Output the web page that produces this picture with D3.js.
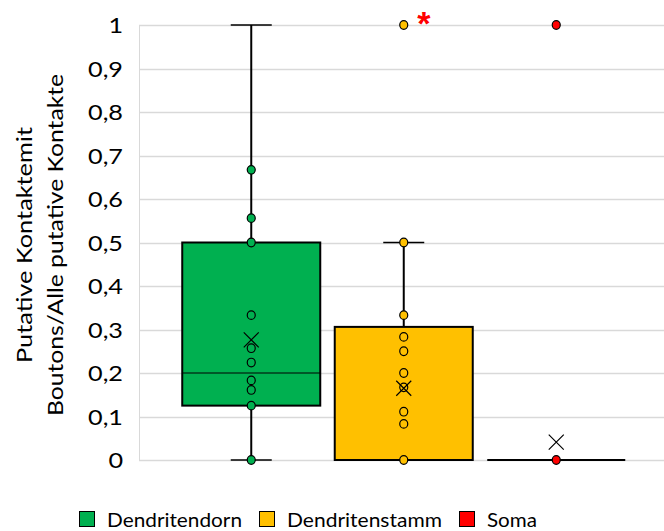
<!DOCTYPE html>
<html>
<head>
<meta charset="utf-8">
<script src="https://cdn.jsdelivr.net/npm/d3@7"></script>
<style>
  html, body { margin: 0; padding: 0; background: #fff; }
  svg { display: block; }
  text { font-family: Lato, "Liberation Sans", sans-serif; fill: #000; }
</style>
</head>
<body>
<div id="chart"></div>
<script>
// Categories and colours of the three contact locations
const categories = ["Dendritendorn", "Dendritenstamm", "Soma"];
const colors = ["#00B050", "#FFC000", "#FF0000"];

// Box-plot statistics per category
const whiskerLow  = [0, 0, 0];
const q1          = [0.125, 0, 0];
const median      = [0.2, 0, 0];
const q3          = [0.5, 0.306, 0];
const whiskerHigh = [1, 0.5, 0];
const means       = [0.276, 0.165, 0.041];

// Individual observations per category
const pointsDorn   = [0.667, 0.556, 0.5, 0.333, 0.257, 0.224, 0.183, 0.161, 0.125, 0];
const pointsStamm  = [1, 0.5, 0.333, 0.283, 0.25, 0.2, 0.167, 0.111, 0.083, 0];
const pointsSoma   = [1, 0];
const points = [pointsDorn, pointsStamm, pointsSoma];

// Significance marker placed on the outlier of the second group
const markedGroup = 1;
const markedValue = 1;

// Axis ticks
const yTicks = [0, 0.1, 0.2, 0.3, 0.4, 0.5, 0.6, 0.7, 0.8, 0.9, 1];
const yTitle = ["Putative Kontaktemit", "Boutons/Alle putative Kontakte"];

const W = 664, H = 531;
const svg = d3.select("#chart").append("svg").attr("width", W).attr("height", H);

const y = d3.scaleLinear().domain([0, 1]).range([460, 25]);
const x = d3.scaleBand().domain(categories).range([175, 632.5]).paddingInner(0.095).paddingOuter(0.0475);
const cx = c => x(c) + x.bandwidth() / 2;

const plotLeft = 139, plotRight = 664;

// Stretch/squeeze a text element horizontally to a given rendered width
function fitWidth(node, target) {
  const w = node.getComputedTextLength();
  if (w > 0) {
    d3.select(node).attr("textLength", target).attr("lengthAdjust", "spacingAndGlyphs");
  }
}

// Horizontal gridlines
svg.append("g").selectAll("line").data(yTicks).join("line")
  .attr("x1", plotLeft).attr("x2", plotRight)
  .attr("y1", d => Math.round(y(d)) + 0.5).attr("y2", d => Math.round(y(d)) + 0.5)
  .attr("stroke", "#D9D9D9").attr("stroke-width", 1.5);

// Vertical axis line
svg.append("line").attr("x1", plotLeft + 0.5).attr("x2", plotLeft + 0.5)
  .attr("y1", y(1)).attr("y2", y(0)).attr("stroke", "#D9D9D9").attr("stroke-width", 1);

// Y axis tick labels
const fmt = d => d3.format(".1~f")(d).replace(".", ",");
const yAxis = d3.axisLeft(y).tickValues(yTicks).tickFormat(fmt).tickSize(0).tickPadding(0);
const gy = svg.append("g").attr("transform", "translate(123,0)").call(yAxis);
gy.select(".domain").remove();
gy.selectAll("text").style("font-size", "21px").style("font-family", "Lato, 'Liberation Sans', sans-serif")
  .attr("dy", "0.36em").attr("x", 0);
// widen the labels uniformly so that "0,9" is about 35px wide
{
  const ref = gy.selectAll("text").filter(d => d === 0.9).node();
  const sx = 35 / ref.getComputedTextLength();
  gy.selectAll(".tick text").attr("transform", `scale(${sx},1)`);
}

// Y axis title (two lines, rotated)
const ty = svg.append("text").attr("transform", "translate(0,245) rotate(-90)")
  .attr("text-anchor", "middle").style("font-size", "21px");
const titleWidths = [236, 342];
ty.selectAll("tspan").data(yTitle).join("tspan")
  .attr("x", 0).attr("y", (d, i) => 32 + i * 31).text(d => d)
  .each(function (d, i) { fitWidth(this, titleWidths[i]); });

// Boxes, whiskers, medians
categories.forEach((c, i) => {
  const g = svg.append("g");
  const mx = cx(c);
  const capW = 41;
  if (whiskerHigh[i] > q3[i]) {
    g.append("line").attr("x1", mx).attr("x2", mx).attr("y1", y(q3[i])).attr("y2", y(whiskerHigh[i]))
      .attr("stroke", "#000").attr("stroke-width", 2);
    g.append("line").attr("x1", mx - capW / 2).attr("x2", mx + capW / 2)
      .attr("y1", y(whiskerHigh[i])).attr("y2", y(whiskerHigh[i])).attr("stroke", "#000").attr("stroke-width", 1.5);
  }
  if (whiskerLow[i] < q1[i]) {
    g.append("line").attr("x1", mx).attr("x2", mx).attr("y1", y(q1[i])).attr("y2", y(whiskerLow[i]))
      .attr("stroke", "#000").attr("stroke-width", 2);
    g.append("line").attr("x1", mx - capW / 2).attr("x2", mx + capW / 2)
      .attr("y1", y(whiskerLow[i])).attr("y2", y(whiskerLow[i])).attr("stroke", "#000").attr("stroke-width", 1.5);
  }
  const h = y(q1[i]) - y(q3[i]);
  if (h > 0) {
    g.append("rect").attr("x", x(c)).attr("y", y(q3[i])).attr("width", x.bandwidth()).attr("height", h)
      .attr("fill", colors[i]).attr("stroke", "#000").attr("stroke-width", 2);
    g.append("line").attr("x1", x(c)).attr("x2", x(c) + x.bandwidth())
      .attr("y1", y(median[i])).attr("y2", y(median[i])).attr("stroke", "#000").attr("stroke-width", 1.2);
  } else {
    g.append("line").attr("x1", x(c)).attr("x2", x(c) + x.bandwidth())
      .attr("y1", y(q1[i])).attr("y2", y(q1[i])).attr("stroke", "#000").attr("stroke-width", 2);
  }
});

// Data points
categories.forEach((c, i) => {
  svg.append("g").selectAll("ellipse").data(points[i]).join("ellipse")
    .attr("cx", cx(c)).attr("cy", d => y(d)).attr("rx", 4).attr("ry", 4.3)
    .attr("fill", colors[i]).attr("stroke", "#000").attr("stroke-width", 1.2);
});

// Mean markers (X)
categories.forEach((c, i) => {
  const mx = cx(c), my = y(means[i]), s = 7.5;
  svg.append("path").attr("d", `M${mx - s},${my - s}L${mx + s},${my + s}M${mx - s},${my + s}L${mx + s},${my - s}`)
    .attr("stroke", "#000").attr("stroke-width", 1.2).attr("fill", "none");
});

// Significance asterisk
svg.append("text").attr("x", cx(categories[markedGroup]) + 20).attr("y", y(markedValue) + 10)
  .attr("text-anchor", "middle").style("font-size", "34px").style("font-weight", "bold")
  .style("fill", "#FF0000").style("font-family", "'Liberation Sans', sans-serif").text("*");

// Legend
const legendX = [79, 259, 459];
const legendWidths = [135, 155, 50];
const lg = svg.append("g");
categories.forEach((c, i) => {
  lg.append("rect").attr("x", legendX[i] + 0.5).attr("y", 511.5).attr("width", 15).attr("height", 15)
    .attr("fill", colors[i]).attr("stroke", "#000").attr("stroke-width", 1);
  lg.append("text").attr("x", legendX[i] + 28).attr("y", 520).attr("dy", "0.35em")
    .style("font-size", "20px").text(c)
    .each(function () { fitWidth(this, legendWidths[i]); });
});
</script>
</body>
</html>
